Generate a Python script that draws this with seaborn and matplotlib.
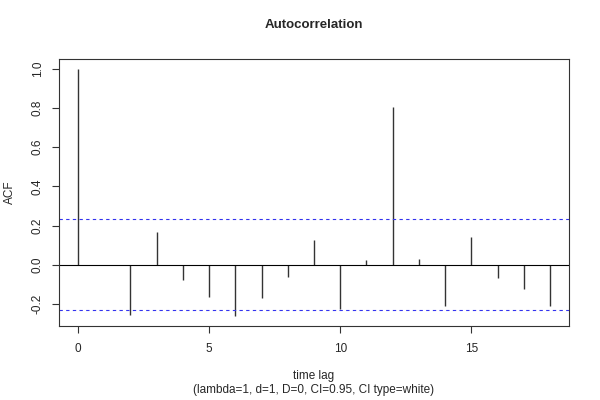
import matplotlib
matplotlib.use("Agg")
import matplotlib.pyplot as plt
import seaborn as sns
import pandas as pd

# ACF values
lags = list(range(19))
acf_values = [1.0, -0.003, -0.255, 0.165, -0.077, -0.162, -0.262, -0.170, -0.061,
              0.128, -0.226, 0.022, 0.804, 0.027, -0.211, 0.144, -0.068, -0.126, -0.211]
ci_bound = 0.232
x_ticks = [0, 5, 10, 15]
y_ticks = [-0.2, 0.0, 0.2, 0.4, 0.6, 0.8, 1.0]

df = pd.DataFrame({"lag": lags, "acf": acf_values})

sns.set_theme(style="ticks")
plt.rcParams["font.family"] = ["Liberation Sans", "DejaVu Sans"]

fig = plt.figure(figsize=(6, 4), dpi=100)
ax = fig.add_axes([0.0983, 0.185, 0.85, 0.6675])

ax.vlines(df["lag"], 0, df["acf"], color="#333333", linewidth=1)
ax.axhline(0, color="black", linewidth=0.8)
ax.axhline(ci_bound, color="#3333ee", linewidth=0.8, linestyle=(0, (3, 3)))
ax.axhline(-ci_bound, color="#3333ee", linewidth=0.8, linestyle=(0, (3, 3)))

ax.set_xlim(-0.72, 18.72)
ax.set_ylim(-0.3125, 1.0505)
ax.set_xticks(x_ticks)
ax.set_yticks(y_ticks)
ax.set_yticklabels([f"{v:.1f}" for v in y_ticks], rotation=90, va="center")
ax.tick_params(labelsize=8.5, length=5, width=0.8, color="#333333")
ax.tick_params(axis="x", pad=7)
ax.tick_params(axis="y", pad=6)

for s in ax.spines.values():
    s.set_visible(True)
    s.set_color("#333333")
    s.set_linewidth(0.8)

ax.set_title("Autocorrelation", fontsize=9.5, fontweight="bold", pad=22)
ax.set_ylabel("ACF", fontsize=8.5, labelpad=11)
ax.set_xlabel("time lag\n(lambda=1, d=1, D=0, CI=0.95, CI type=white)", fontsize=8.5,
              labelpad=11, linespacing=1.2)

fig.savefig("out.png", dpi=100)
